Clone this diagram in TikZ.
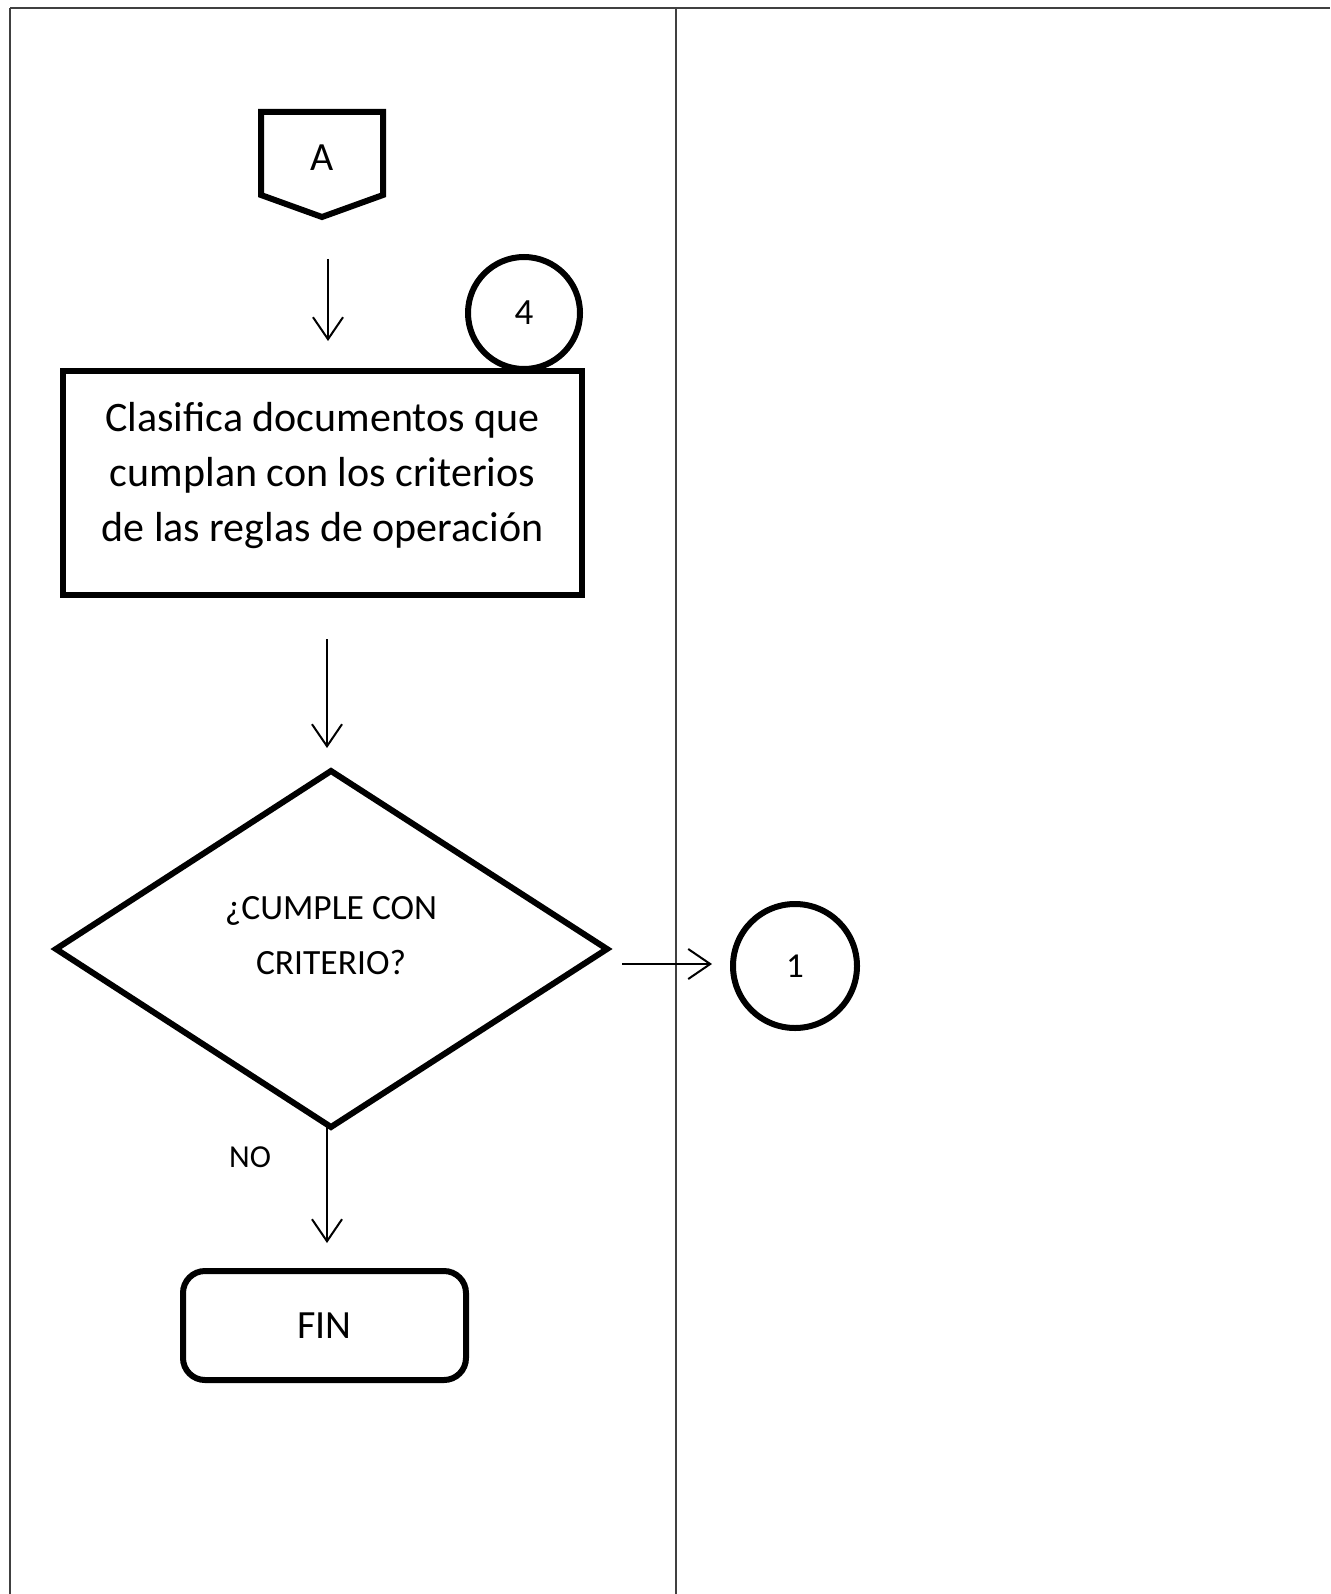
\documentclass[tikz,border=0pt]{standalone}
\usepackage{fontspec}
\setmainfont{Carlito}
\usetikzlibrary{arrows.meta,shapes.geometric}
\begin{document}
\begin{tikzpicture}[x=1pt,y=-1pt,
  shp/.style={draw=black,line width=6pt,line join=miter},
  conn/.style={draw=black,line width=2pt,-{Straight Barb[length=22pt,width=30pt,line width=2pt]}},
  lane/.style={draw=black!75,line width=2pt},
  txt/.style={font=\fontsize{38}{55}\selectfont,align=center,inner sep=0pt}]
\useasboundingbox (0,0) rectangle (1330,1594);
% lanes
\draw[lane] (10,8) -- (1330,8);
\draw[lane] (10,8) -- (10,1594);
\draw[lane] (676,8) -- (676,1594);
% off-page connector A
\draw[shp] (261,112) -- (383,112) -- (383,195) -- (322,217) -- (261,195) -- cycle;
\node[txt,font=\fontsize{40}{45}\selectfont] (A) at (322,158) {A};
\coordinate (a1) at (328,259);
\coordinate (a2) at (328,341);
\draw[conn] (a1) -- (a2);
% circle 4
\node[shp,circle,minimum size=112pt,inner sep=0pt,font=\fontsize{37}{40}\selectfont] (c4) at (524,313) {4};
% process box
\node[shp,fill=white,minimum width=519pt,minimum height=224pt,inner sep=0pt] (box) at (322.5,483) {};
\node[txt,font=\fontsize{42}{55}\selectfont] (boxtxt) at (322.5,476)
  {Clasifica documentos que\\cumplan con los criterios\\de las reglas de operación};
\coordinate (b1) at (327,639);
\coordinate (b2) at (327,748);
\draw[conn] (b1) -- (b2);
% decision
\draw[shp] (331,771) -- (607,949) -- (331,1127) -- (56,949) -- cycle;
\node[txt,font=\fontsize{35.5}{55}\selectfont] (dec) at (331,936) {¿CUMPLE CON\\CRITERIO?};
\coordinate (dbot) at (327,1127);
\coordinate (r1) at (622,964);
\coordinate (r2) at (712,964);
\draw[conn] (r1) -- (r2);
\node[shp,circle,minimum size=124pt,inner sep=0pt,font=\fontsize{35}{40}\selectfont] (c1) at (795,966) {1};
% NO
\node[txt,font=\fontsize{32}{40}\selectfont] (no) at (250,1157) {NO};
\coordinate (n2) at (327,1243);
\draw[conn] (dbot) -- (n2);
% FIN
\node[shp,rounded corners=22pt,minimum width=283pt,minimum height=109pt,txt,font=\fontsize{40}{45}\selectfont] (fin) at (324.5,1325.5) {FIN};
\end{tikzpicture}
\end{document}
